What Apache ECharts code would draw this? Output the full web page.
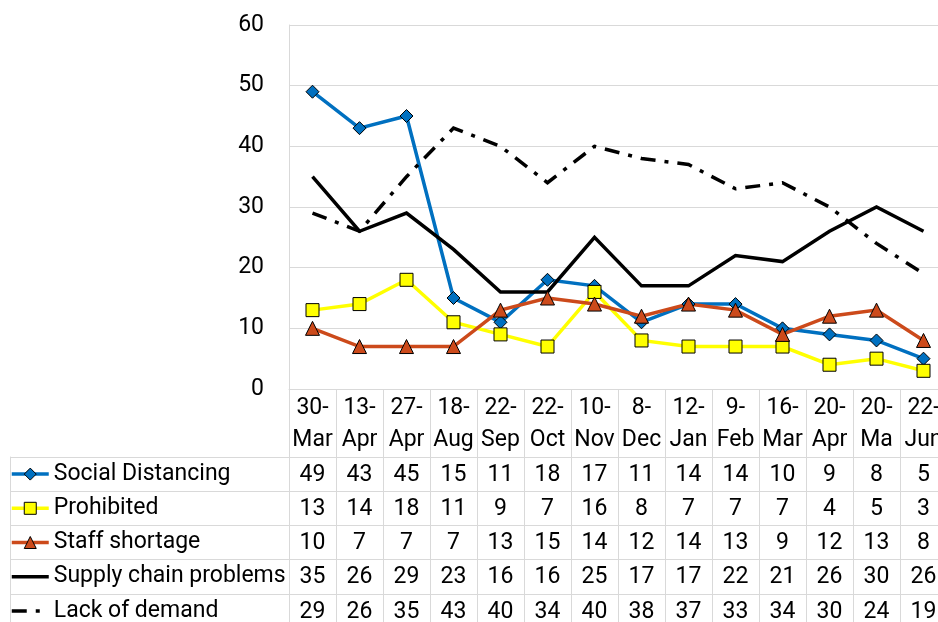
<!DOCTYPE html>
<html>
<head>
<meta charset="utf-8">
<title>Reasons for reduced trading</title>
<script src="https://cdn.jsdelivr.net/npm/echarts@6/dist/echarts.min.js"></script>
<style>
  html, body { margin: 0; padding: 0; overflow: hidden; background: #fff; }
  #chart { width: 947px; height: 628px; }
</style>
</head>
<body>
<div id="chart"></div>
<script>
// Survey dates (day-month)
const categories = ['30-Mar', '13-Apr', '27-Apr', '18-Aug', '22-Sep', '22-Oct', '10-Nov',
  '8-Dec', '12-Jan', '9-Feb', '16-Mar', '20-Apr', '20-Ma', '22-Jun'];

// Share of responses per reason
const socialDistancing = [49, 43, 45, 15, 11, 18, 17, 11, 14, 14, 10, 9, 8, 5];
const prohibited       = [13, 14, 18, 11, 9, 7, 16, 8, 7, 7, 7, 4, 5, 3];
const staffShortage    = [10, 7, 7, 7, 13, 15, 14, 12, 14, 13, 9, 12, 13, 8];
const supplyChain      = [35, 26, 29, 23, 16, 16, 25, 17, 17, 22, 21, 26, 30, 26];
const lackOfDemand     = [29, 26, 35, 43, 40, 34, 40, 38, 37, 33, 34, 30, 24, 19];

const seriesNames = ['Social Distancing', 'Prohibited', 'Staff shortage',
  'Supply chain problems', 'Lack of demand'];
const seriesValues = [socialDistancing, prohibited, staffShortage, supplyChain, lackOfDemand];

// Value axis ticks
const yMin = 0, yMax = 60, yStep = 10;

const FONT = 'Roboto';
const FS = 23;
const GRID_COLOR = '#d9d9d9';

const chart = echarts.init(document.getElementById('chart'), null, { renderer: 'canvas' });

const styles = [
  { color: '#0070C0', symbol: 'diamond', symbolSize: 13, line: { width: 3.5 } },
  { color: '#FFFF00', symbol: 'rect', symbolSize: 13, line: { width: 3.5 } },
  { color: '#CC4A1B', symbol: 'triangle', symbolSize: 14, line: { width: 3.5 } },
  { color: '#000000', symbol: 'none', symbolSize: 0, line: { width: 3.5 } },
  { color: '#000000', symbol: 'none', symbolSize: 0, line: { width: 3.5, type: [15, 9, 4, 9] } }
];

const lineSeries = seriesNames.map((name, i) => ({
  name: name,
  type: 'line',
  xAxisIndex: 0,
  yAxisIndex: 0,
  data: seriesValues[i],
  symbol: styles[i].symbol,
  symbolSize: styles[i].symbolSize,
  showSymbol: styles[i].symbol !== 'none',
  color: styles[i].color,
  lineStyle: Object.assign({ color: styles[i].color, cap: 'butt', join: 'miter' }, styles[i].line),
  itemStyle: { color: styles[i].color, borderColor: '#000', borderWidth: 1 },
  emphasis: { disabled: true },
  animation: false
}));

// Cell entries for the data table: [column, row, value]
const tableCells = [];
seriesValues.forEach((vals, r) => vals.forEach((v, c) => tableCells.push([c, r, v])));

const tableSeries = {
  name: 'table',
  type: 'custom',
  xAxisIndex: 1,
  yAxisIndex: 1,
  data: tableCells,
  encode: { x: 0, y: 1 },
  silent: true,
  animation: false,
  renderItem: function (params, api) {
    const p = api.coord([api.value(0), api.value(1)]);
    return {
      type: 'text',
      x: p[0],
      y: p[1] + 1,
      style: {
        text: String(api.value(2)),
        fontSize: FS,
        fontFamily: FONT,
        fill: '#000',
        align: 'center',
        verticalAlign: 'middle'
      }
    };
  }
};

// One legend per table row, placed in the row header column
const rowTop = 457, rowH = 34.2;
const legends = seriesNames.map((name, i) => {
  const hasMarker = styles[i].symbol !== 'none';
  return {
    data: [hasMarker ? { name: name } : {
      name: name,
      itemStyle: { color: 'rgba(0,0,0,0)', borderWidth: 0, opacity: 0 }
    }],
    left: 10,
    top: rowTop + rowH * i + rowH / 2 - 11.5,
    padding: 0,
    itemWidth: 37,
    itemHeight: 15,
    selectedMode: false,
    textStyle: { fontSize: FS, fontFamily: FONT, color: '#000' },
    lineStyle: { width: 3.5 },
    itemStyle: { borderColor: '#000', borderWidth: 1 }
  };
});

const option = {
  backgroundColor: '#fff',
  animation: false,
  legend: legends,
  grid: [
    { left: 289, right: 0, top: 25, height: 364 },
    { left: 289, right: 0, top: rowTop, height: rowH * 5 }
  ],
  xAxis: [
    {
      type: 'category',
      gridIndex: 0,
      data: categories,
      boundaryGap: true,
      axisLine: { show: true, lineStyle: { color: GRID_COLOR, width: 1 } },
      axisTick: { show: true, length: 68, interval: 0, lineStyle: { color: GRID_COLOR, width: 1 } },
      axisLabel: {
        interval: 0,
        margin: 3,
        fontSize: FS,
        lineHeight: 32,
        fontFamily: FONT,
        color: '#000',
        formatter: (v) => v.replace('-', '-\n')
      },
      splitLine: { show: false }
    },
    {
      type: 'category',
      gridIndex: 1,
      data: categories,
      boundaryGap: true,
      axisLine: { show: false },
      axisTick: { show: false },
      axisLabel: { show: false },
      splitLine: { show: true, interval: 0, lineStyle: { color: GRID_COLOR, width: 1 } }
    }
  ],
  yAxis: [
    {
      type: 'value',
      gridIndex: 0,
      min: yMin,
      max: yMax,
      interval: yStep,
      axisLine: { show: true, lineStyle: { color: GRID_COLOR, width: 1 } },
      axisTick: { show: false },
      axisLabel: { margin: 25, fontSize: FS, fontFamily: FONT, color: '#000' },
      splitLine: { show: true, lineStyle: { color: GRID_COLOR, width: 1 } }
    },
    {
      type: 'category',
      gridIndex: 1,
      data: seriesNames,
      inverse: true,
      boundaryGap: true,
      axisLine: { show: false },
      axisTick: { show: true, length: 279, interval: 0, lineStyle: { color: GRID_COLOR, width: 1 } },
      axisLabel: { show: false },
      splitLine: { show: true, interval: 0, lineStyle: { color: GRID_COLOR, width: 1 } }
    },
    {
      // left border of the row header column
      type: 'category',
      gridIndex: 1,
      position: 'left',
      offset: 279,
      data: seriesNames,
      inverse: true,
      axisLine: { show: true, lineStyle: { color: GRID_COLOR, width: 1 } },
      axisTick: { show: false },
      axisLabel: { show: false },
      splitLine: { show: false }
    }
  ],
  series: lineSeries.concat([tableSeries])
};

chart.setOption(option);
</script>
</body>
</html>
